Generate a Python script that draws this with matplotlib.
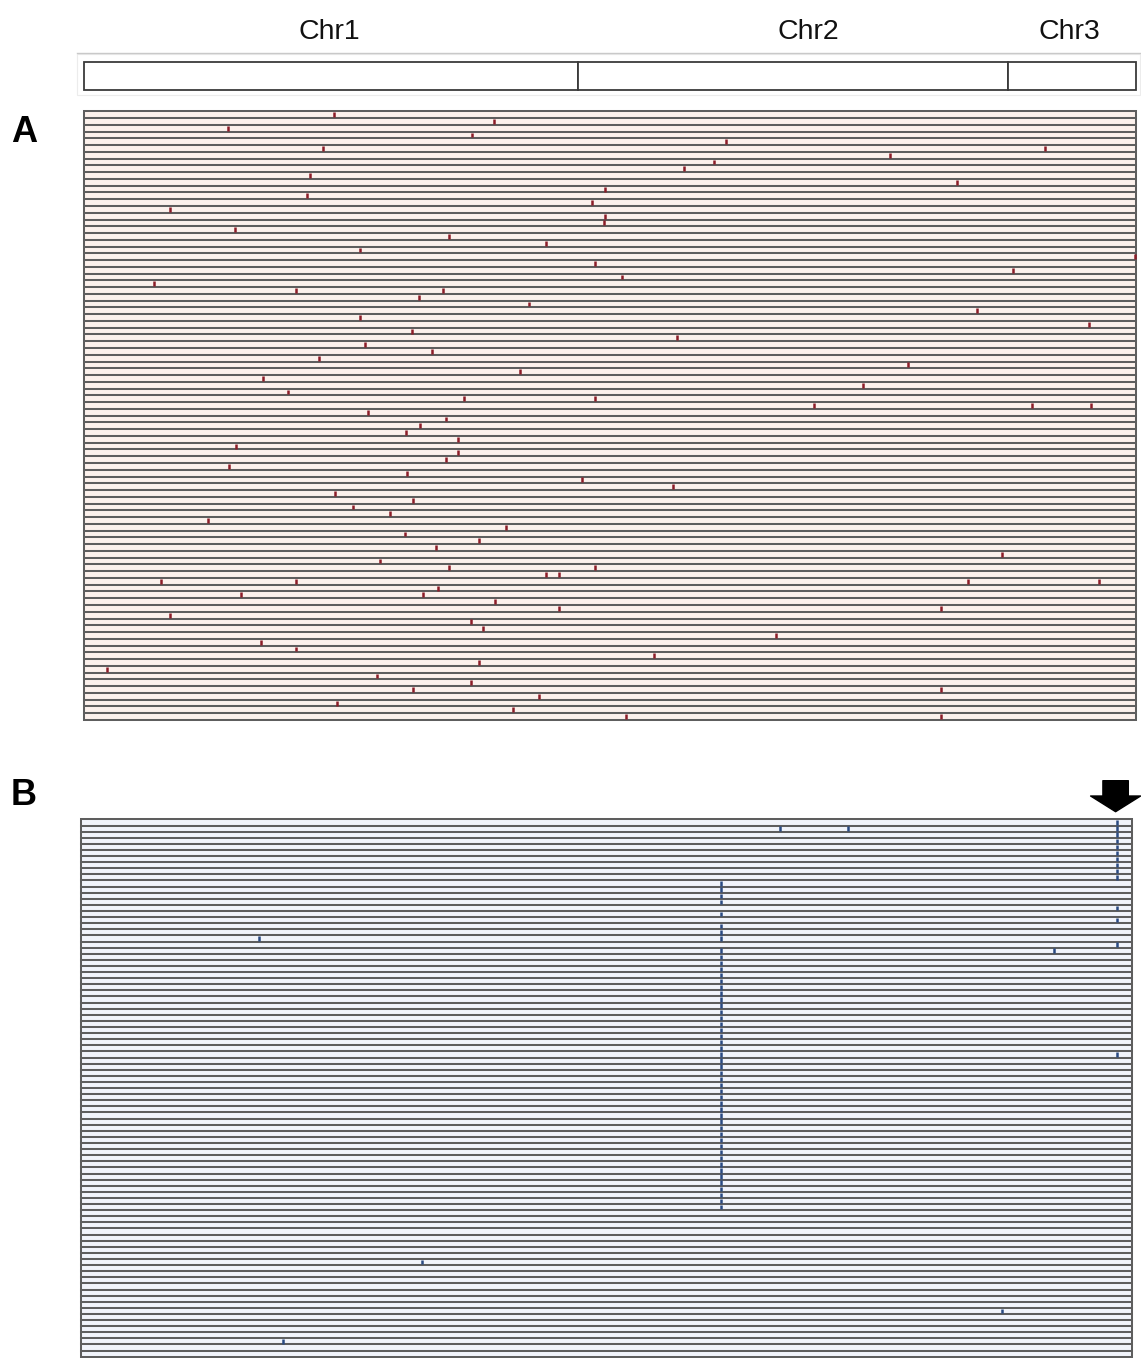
import matplotlib
matplotlib.use("Agg")
import matplotlib.pyplot as plt
from matplotlib.lines import Line2D
from matplotlib.patches import Rectangle
import numpy as np

# ---------------- data ----------------
chrom_names = ["Chr1", "Chr2", "Chr3"]
chrom_lengths = [494, 430, 128]          # genome units (total 1052)
chrom_label_x = [245, 724, 985]          # label anchor positions in genome units

# Panel A: 90 lines, red mutation marks (row index, genome position)
a_n_rows = 90
a_rows = [0, 1, 2, 3, 4, 5, 5, 6, 7, 8, 9, 10, 11, 12, 13, 14, 15, 16, 17, 18,
          19, 20, 21, 22, 23, 24, 25, 26, 26, 27, 28, 29, 30, 31, 32, 33, 34, 35,
          36, 37, 38, 39, 40, 41, 42, 42, 43, 43, 43, 44, 45, 46, 47, 48, 49, 50,
          51, 52, 53, 54, 55, 56, 57, 58, 59, 60, 61, 62, 63, 64, 65, 66, 67, 67,
          68, 68, 69, 69, 69, 69, 70, 71, 71, 72, 73, 73, 74, 75, 76, 77, 78, 79,
          80, 81, 82, 83, 84, 85, 85, 86, 87, 88, 89, 89]
a_pos = [249.9, 409.5, 143.7, 387.8, 642.4, 239.1, 961.3, 806.1, 630.4, 600.3,
         225.5, 873.1, 521.0, 222.8, 507.8, 86.3, 521.0, 519.7, 150.8, 364.5,
         461.5, 275.9, 1051.0, 510.5, 928.9, 537.8, 70.4, 212.0, 359.1, 334.7,
         444.6, 893.3, 275.9, 1005.1, 327.6, 593.1, 281.3, 348.3, 235.0, 823.6,
         435.8, 178.9, 778.8, 203.6, 379.7, 510.5, 729.9, 948.0, 1006.5, 284.0,
         361.5, 335.8, 322.2, 374.0, 151.8, 374.0, 361.5, 145.1, 323.3, 498.0,
         589.4, 251.2, 329.0, 269.2, 306.0, 123.5, 421.6, 320.9, 394.6, 352.0,
         917.6, 296.2, 364.5, 510.5, 461.5, 474.7, 76.8, 212.0, 884.1, 1014.7,
         353.7, 157.3, 338.8, 411.1, 474.7, 856.7, 86.3, 386.5, 398.6, 691.6,
         176.5, 212.0, 570.2, 394.6, 22.7, 292.5, 386.5, 329.0, 856.7, 454.8,
         252.6, 428.7, 541.9, 856.7]

# Panel B: 88 lines, blue mutation marks
b_n_rows = 88
b_rows = [0, 1, 2, 3, 4, 5, 6, 7, 8, 9,
          1, 1,
          10, 11, 12, 13, 15, 17, 18, 19, 21, 22, 23, 24, 25, 26, 27, 28, 29, 30,
          31, 32, 33, 34, 35, 36, 37, 38, 39, 40, 41, 42, 43, 44, 45, 46, 47, 48,
          49, 50, 51, 52, 53, 54, 55, 56, 57, 58, 59, 60, 61, 62, 63,
          14, 16, 20, 38,
          19, 21, 72, 80, 85]
b_pos = [1036.2, 1036.2, 1036.2, 1036.2, 1036.2, 1036.2, 1036.2, 1036.2, 1036.2, 1036.2,
         699.4, 767.7,
         640.8, 640.8, 640.8, 640.8, 640.8, 640.8, 640.8, 640.8, 640.8, 640.8,
         640.8, 640.8, 640.8, 640.8, 640.8, 640.8, 640.8, 640.8, 640.8, 640.8,
         640.8, 640.8, 640.8, 640.8, 640.8, 640.8, 640.8, 640.8, 640.8, 640.8,
         640.8, 640.8, 640.8, 640.8, 640.8, 640.8, 640.8, 640.8, 640.8, 640.8,
         640.8, 640.8, 640.8, 640.8, 640.8, 640.8, 640.8, 640.8, 640.8, 640.8,
         640.8,
         1036.2, 1036.2, 1036.2, 1036.2,
         178.3, 973.4, 341.3, 921.3, 202.6]
arrow_site = 1035.3

# ---------------- layout ----------------
W, H = 1141, 1358
fig = plt.figure(figsize=(W / 100, H / 100), dpi=100)
FONT = "Liberation Sans"


def px_axes(left, top, right, bottom):
    ax = fig.add_axes([left / W, 1 - bottom / H, (right - left) / W, (bottom - top) / H])
    ax.set_axis_off()
    return ax


genome_len = sum(chrom_lengths)
starts = np.concatenate([[0], np.cumsum(chrom_lengths)[:-1]])

# chromosome bar
ax_c = px_axes(84, 61.7, 1136, 90)
ax_c.barh(0, chrom_lengths, left=starts, height=1, color="white",
          edgecolor="#3a3a3a", linewidth=1.3, clip_on=False)
ax_c.set_xlim(0, genome_len)
ax_c.set_ylim(-0.5, 0.5)
for name, lx in zip(chrom_names, chrom_label_x):
    fig.text((84 + lx) / W, 1 - 39.3 / H, name, ha="center", va="baseline",
             fontsize=20.5, family=FONT, color="#111111")
fig.add_artist(Line2D([76.7 / W, 1.0], [1 - 52.7 / H] * 2, color="#c9c9c9", lw=1.0))
fig.add_artist(Rectangle((76.7 / W, 1 - 94.5 / H), 1 - 76.7 / W - 0.001, (94.5 - 54) / H,
                         transform=fig.transFigure, fill=False,
                         edgecolor="#ececec", lw=0.8))


def draw_panel(ax, n_rows, rows, pos, face, tick_color):
    ax.barh(np.arange(n_rows), genome_len, left=0, height=1, color=face,
            edgecolor="#5e5e5e", linewidth=1.45, clip_on=False)
    r = np.asarray(rows, dtype=float)
    ax.vlines(pos, r - 0.36, r + 0.36, color=tick_color, linewidth=1.8, zorder=3,
              clip_on=False)
    ax.set_xlim(0, genome_len)
    ax.set_ylim(n_rows - 0.5, -0.5)


ax_a = px_axes(84, 111.3, 1136, 720)
draw_panel(ax_a, a_n_rows, a_rows, a_pos, "#fcf1ec", "#8c1c28")

ax_b = px_axes(80.7, 819.4, 1132.3, 1356.7)
draw_panel(ax_b, b_n_rows, b_rows, b_pos, "#f1f4fb", "#2a4a82")

# panel letters
fig.text(11 / W, 1 - 141.7 / H, "A", fontsize=26, fontweight="bold", family=FONT,
         ha="left", va="baseline")
fig.text(11 / W, 1 - 805 / H, "B", fontsize=26, fontweight="bold", family=FONT,
         ha="left", va="baseline")

# arrow pointing at the recurrent site in panel B
row_px = (1356.7 - 819.4) / b_n_rows
ax_b.annotate("", xy=(arrow_site, -0.5 - 7.7 / row_px),
              xytext=(arrow_site, -0.5 - 38.7 / row_px),
              arrowprops=dict(arrowstyle="simple,head_length=11.3,head_width=36,tail_width=18.3",
                              mutation_scale=1, color="black", shrinkA=0, shrinkB=0),
              annotation_clip=False)

fig.savefig("out.png", dpi=100)
